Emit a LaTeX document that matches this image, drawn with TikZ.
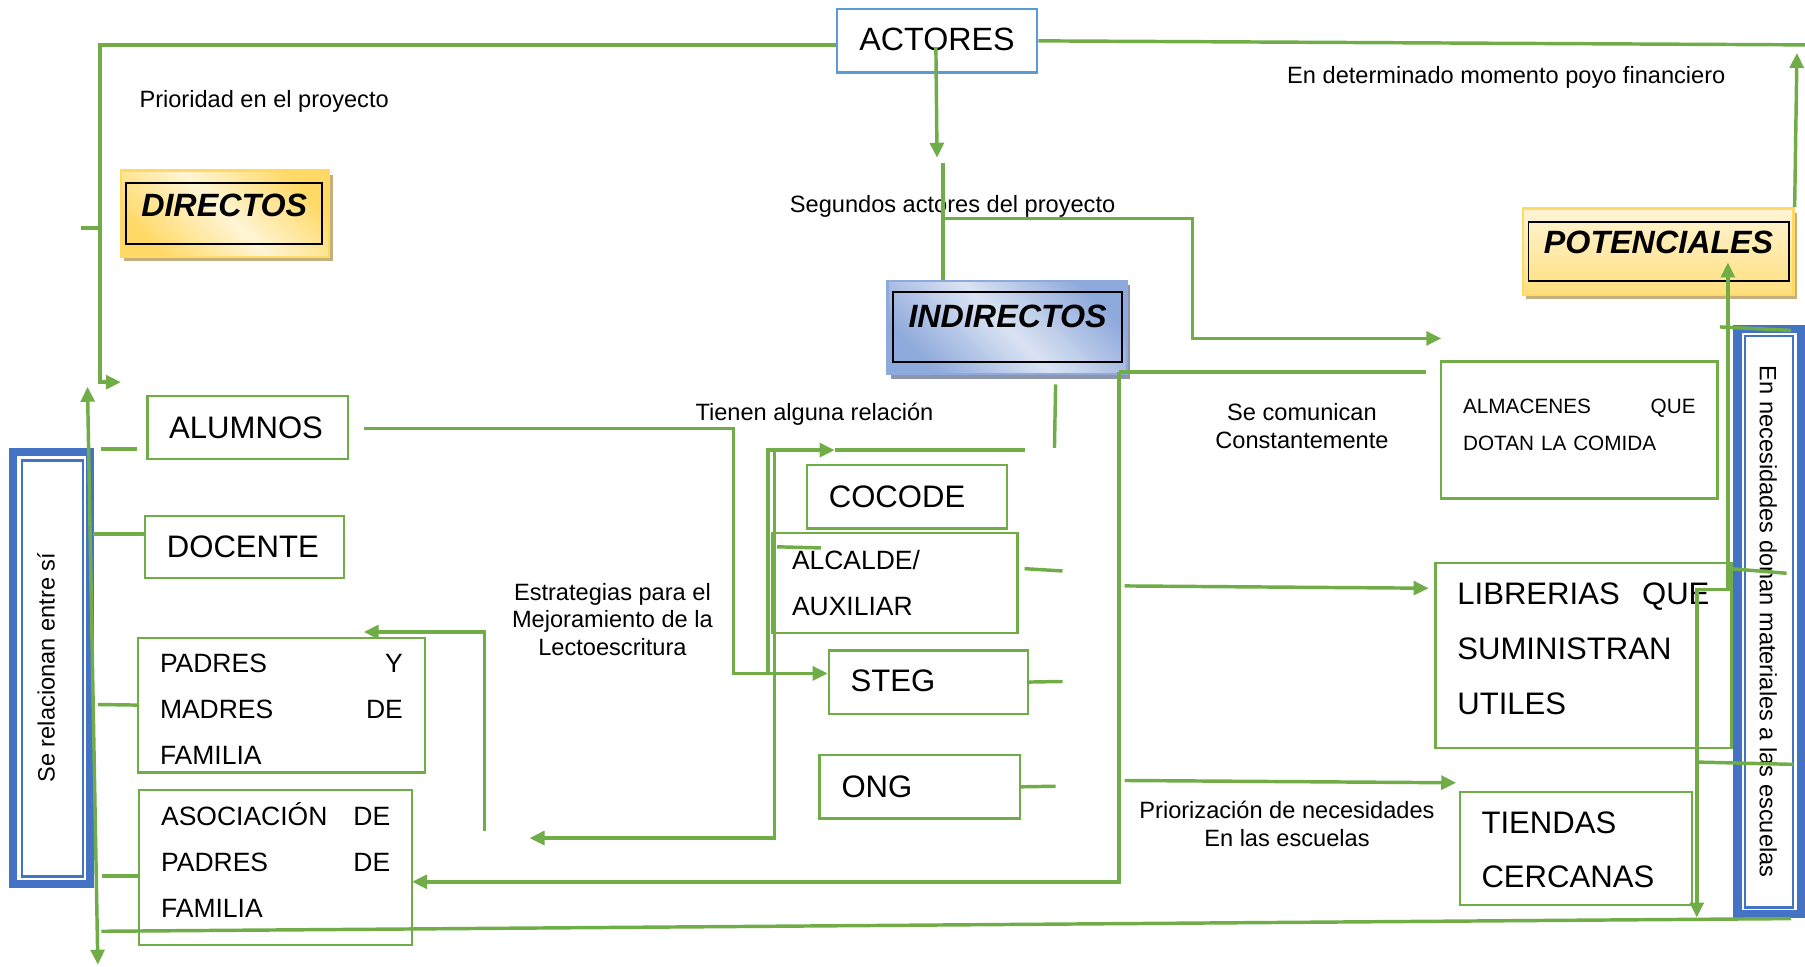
\documentclass[tikz,border=0pt]{standalone}
\usepackage{fontspec}
\setmainfont{Liberation Sans}
\usepackage{tikz}
\usepackage{xcolor}
\definecolor{MapGreen}{HTML}{70AD47}
\definecolor{MapBlue}{HTML}{4472C4}
\definecolor{MapSky}{HTML}{5B9BD5}
\definecolor{MapGold}{HTML}{FFD966}
\definecolor{MapCream}{HTML}{FFF5D6}
\definecolor{MapSteel}{HTML}{8EA9DB}
\definecolor{MapIce}{HTML}{DAE3F3}
\definecolor{MapTan}{HTML}{C4B07E}
\definecolor{MapSlate}{HTML}{8C96A8}
\usetikzlibrary{arrows.meta,shadows}

\begin{document}
\begin{tikzpicture}[x=1pt, y=-1pt,
  link/.style={MapGreen, line width=3pt},
  linkarrow/.style={link, -{Triangle[length=13pt,width=12pt]}},
  linkboth/.style={link, {Triangle[length=13pt,width=12pt]}-{Triangle[length=13pt,width=12pt]}},
  member/.style={draw=MapGreen, line width=2pt, fill=white, anchor=north west,
    inner xsep=19pt, inner ysep=0pt, align=left},
  bigtext/.style={font=\fontsize{27}{47}\selectfont},
  midtext/.style={font=\fontsize{23}{40}\selectfont},
  note/.style={font=\fontsize{20.5}{24}\selectfont, align=center, inner sep=0pt},
  headframe/.style={anchor=north west, inner sep=0pt, line width=2pt},
  headlabel/.style={draw=black, line width=1.6pt, anchor=north west, inner sep=0pt,
    align=center, font=\fontsize{28}{30}\selectfont\bfseries\itshape},
]
  \useasboundingbox (0,0) rectangle (1568,839.2);
  % side frames (Se relacionan / En necesidades)
  \draw[MapBlue, line width=7pt] (11.6,393) rectangle (78.3,768.3);
  \draw[MapBlue, line width=2pt] (18.9,400) rectangle (72,761.4);
  \node[note, rotate=90] (relacionan) at (40,580) {Se relacionan entre sí};
  \draw[MapBlue, line width=7.3pt] (1509.4,285.7) rectangle (1564.4,794);
  \draw[MapBlue, line width=2pt] (1515.6,292) rectangle (1557.4,788.3);
  \node[note, rotate=-90] (donan) at (1536,540) {En necesidades donan materiales a las escuelas};
  % headings
  \node[draw=MapSky, line width=2pt, fill=white, anchor=north west, inner sep=0pt, text width=174pt,
    align=center, text height=36pt, text depth=19pt, font=\fontsize{28}{30}\selectfont] (actores) at (726,7) {ACTORES};
  \node[headframe, draw=MapGold, top color=MapGold, bottom color=MapGold, middle color=MapCream, shading angle=-45,
    minimum width=181pt, minimum height=75pt,
    drop shadow={shadow xshift=3pt, shadow yshift=-4pt, fill=MapTan, opacity=1}] (directos-frame) at (104,147) {};
  \node[headlabel, text width=170pt, text height=29pt, text depth=24pt] (directos) at (109,158) {DIRECTOS};
  \node[headframe, draw=MapSteel, top color=MapSteel, bottom color=MapSteel, middle color=MapIce, shading angle=-45,
    minimum width=208pt, minimum height=81pt,
    drop shadow={shadow xshift=3pt, shadow yshift=-4pt, fill=MapSlate, opacity=1}] (indirectos-frame) at (770,243) {};
  \node[headlabel, text width=199pt, text height=31pt, text depth=30pt] (indirectos) at (775,253) {INDIRECTOS};
  \node[headframe, draw=MapGold, top color=MapCream, bottom color=MapGold!85, minimum width=235pt, minimum height=75pt,
    drop shadow={shadow xshift=3pt, shadow yshift=-4pt, fill=MapTan, opacity=1}] (potenciales-frame) at (1322,180) {};
  \node[headlabel, text width=226pt, text height=27pt, text depth=24pt] (potenciales) at (1327,192) {POTENCIALES};
  % directos
  \node[member, bigtext, text width=136pt, text height=37pt, text depth=18pt] (alumnos) at (127,343) {ALUMNOS};
  \node[member, bigtext, text width=135pt, text height=36pt, text depth=18pt] (docente) at (125,447) {DOCENTE};
  \node[member, midtext, text width=211pt, text height=30pt, text depth=87pt] (padres) at (119,553)
    {PADRES\hfill Y\\MADRES\hfill DE\\FAMILIA};
  \node[member, midtext, text width=199pt, text height=31pt, text depth=104pt] (asociacion) at (120,685)
    {ASOCIACIÓN\hfill DE\\PADRES\hfill DE\\FAMILIA};
  % indirectos
  \node[member, bigtext, text width=136pt, text height=37pt, text depth=18pt] (cocode) at (700,403) {COCODE};
  \node[member, midtext, inner xsep=17pt, text width=179pt, text height=32pt, text depth=55pt] (alcalde) at (670,462)
    {ALCALDE/\\AUXILIAR};
  \node[member, bigtext, text width=135pt, text height=36pt, text depth=19pt] (steg) at (719,564) {STEG};
  \node[member, bigtext, text width=136pt, text height=37pt, text depth=18pt] (ong) at (711,655) {ONG};
  % potenciales
  \node[member, font=\fontsize{18}{32}\selectfont, text width=202pt, text height=45pt, text depth=74pt] (almacenes)
    at (1251,313) {ALMACENES\hfill QUE\\DOTAN LA COMIDA};
  \node[member, font=\fontsize{27}{48}\selectfont, text width=219pt, text height=36pt, text depth=125pt] (librerias)
    at (1246,488) {LIBRERIAS\hfill QUE\\SUMINISTRAN\\UTILES};
  \node[member, bigtext, text width=164pt, text height=36pt, text depth=62pt] (tiendas) at (1267,687)
    {TIENDAS\\CERCANAS};
  % relation texts
  \node[note, anchor=west] (prioridad) at (121,88) {Prioridad en el proyecto};
  \node[note, anchor=west] (apoyo) at (1118,67) {En determinado momento poyo financiero};
  \node[note, anchor=west] (segundos) at (686,179) {Segundos actores del proyecto};
  \node[note, anchor=west] (relacion) at (604,360) {Tienen alguna relación};
  \node[note] (comunican) at (1131,370) {Se comunican\\Constantemente};
  \node[note] (estrategias) at (532,538) {Estrategias para el\\Mejoramiento de la\\Lectoescritura};
  \node[note] (priorizacion) at (1118,716) {Priorización de necesidades\\En las escuelas};
  % free ends of the connectors
  \coordinate (dirtop) at (87,39);
  \coordinate (dirfoot) at (105,332);
  \coordinate (dirstub) at (70,198);
  \coordinate (reltop) at (76,336);
  \coordinate (relfoot) at (85,838);
  \coordinate (alumstub) at (88,390);
  \coordinate (alumgap) at (119,390);
  \coordinate (docstub) at (81,464);
  \coordinate (padstub) at (85,612);
  \coordinate (asocstub) at (89,761);
  \coordinate (baseleft) at (88,809);
  \coordinate (baseright) at (1556,798);
  \coordinate (alumout) at (316,372);
  \coordinate (alumturn) at (637,585);
  \coordinate (cocleft) at (667,391);
  \coordinate (coctip) at (725,391);
  \coordinate (cocend) at (890,391);
  \coordinate (ongleft) at (673,391);
  \coordinate (estrtip) at (460,728);
  \coordinate (alcin) at (675,475);
  \coordinate (alcmid) at (713,476);
  \coordinate (indtick) at (917,334);
  \coordinate (indtickend) at (916,389);
  \coordinate (alcout) at (890,494);
  \coordinate (alcend) at (923,496);
  \coordinate (stegend) at (923,592);
  \coordinate (ongend) at (917,683);
  \coordinate (padup) at (421,722);
  \coordinate (padtip) at (316,549);
  \coordinate (actsrc) at (813,41);
  \coordinate (acttip) at (814,137);
  \coordinate (indtop) at (819,142);
  \coordinate (segstart) at (819,190);
  \coordinate (segturn) at (1036,294);
  \coordinate (segtip) at (1252,294);
  \coordinate (actright) at (1568,39);
  \coordinate (pottip) at (1561,46);
  \coordinate (indcorner) at (972,323);
  \coordinate (indlink) at (1239,323);
  \coordinate (asoctip) at (358,766);
  \coordinate (libsrc) at (977,509);
  \coordinate (libtip) at (1241,511);
  \coordinate (tiesrc) at (977,678);
  \coordinate (tietip) at (1265,680);
  \coordinate (rfoot) at (1474,797);
  \coordinate (rturn) at (1501,512);
  \coordinate (potin) at (1501,228);
  \coordinate (libstub) at (1503,494);
  \coordinate (libstubend) at (1552,498);
  \coordinate (rmid) at (1474,662);
  \coordinate (rmidend) at (1558,664);
  \coordinate (rtop) at (1494,284);
  \coordinate (rtopend) at (1556,287);
  % left column
  \draw[linkarrow] (actores.west |- dirtop) -- (dirtop) |- (dirfoot);
  \draw[link] (dirstub) -- (dirstub -| dirtop);
  \draw[linkboth] (relfoot) -- (reltop);
  \draw[link] (alumstub) -- (alumgap);
  \draw[link] (docstub) -- (docstub -| docente.west);
  \draw[link] (padstub) -- (padres.west);
  \draw[link] (asocstub) -- (asocstub -| asociacion.west);
  \draw[link] (baseleft) -- (baseright);
  % middle column
  \draw[linkarrow] (alumout) -| (alumturn) -- (alumturn -| steg.west);
  \draw[linkarrow] (cocleft |- alumturn) -- (cocleft) -- (coctip);
  \draw[link] (coctip) -- (cocend);
  \draw[linkarrow] (ongleft) |- (estrtip);
  \draw[link] (alcin) -- (alcmid);
  \draw[link] (indtick) -- (indtickend);
  \draw[link] (alcout) -- (alcend);
  \draw[link] (steg.east) -- (stegend);
  \draw[link] (ong.east) -- (ongend);
  \draw[linkarrow] (padup) |- (padtip);
  \draw[linkarrow] (actsrc) -- (acttip);
  \draw[link] (indtop) -- (indtop |- indirectos-frame.north);
  \draw[linkarrow] (segstart) -| (segturn) -- (segtip);
  \draw[link] (actores.east) -- (actright);
  \draw[linkarrow] (potenciales-frame.north east) -- (pottip);
  % right column
  \draw[link] (indcorner) -- (indlink);
  \draw[linkarrow] (indcorner) |- (asoctip);
  \draw[linkarrow] (libsrc) -- (libtip);
  \draw[linkarrow] (tiesrc) -- (tietip);
  \draw[linkboth] (rfoot) |- (rturn) -- (potin);
  \draw[link] (libstub) -- (libstubend);
  \draw[link] (rmid) -- (rmidend);
  \draw[link] (rtop) -- (rtopend);
\end{tikzpicture}
\end{document}
